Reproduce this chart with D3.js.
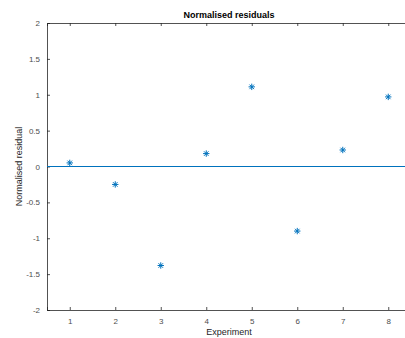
<!DOCTYPE html>
<html>
<head>
<meta charset="utf-8">
<script src="https://cdn.jsdelivr.net/npm/d3@7"></script>
<style>
  body { margin: 0; background: #fff; }
  text { font-family: "Liberation Sans", Arial, sans-serif; }
</style>
</head>
<body>
<div id="graphic"></div>
<script>
// data
const experiments = [1, 2, 3, 4, 5, 6, 7, 8];
const residuals = [0.05, -0.25, -1.38, 0.18, 1.11, -0.90, 0.23, 0.97];
const yTicks = [-2, -1.5, -1, -0.5, 0, 0.5, 1, 1.5, 2];

const margin = {top: 23, right: -6, bottom: 28, left: 47};
const width = 405 - margin.left - margin.right;
const height = 338 - margin.top - margin.bottom;

const svg = d3.select("#graphic")
    .append("svg")
    .attr("width", 405)
    .attr("height", 338)
    .style("display", "block")
    .style("overflow", "hidden");

const g = svg.append("g")
    .attr("transform", `translate(${margin.left}, ${margin.top})`);

const x = d3.scaleLinear().domain([0.5, 8.5]).range([0, width]);
const y = d3.scaleLinear().domain([-2, 2]).range([height, 0]);

const axisColor = "#262626";

// bottom axis, ticks inside
const xAxis = g.append("g")
    .attr("transform", `translate(0, ${height})`)
    .call(d3.axisBottom(x).tickValues(experiments).tickSize(-3).tickPadding(8).tickFormat(d3.format("d")));

// top axis, ticks only
const xTop = g.append("g")
    .call(d3.axisTop(x).tickValues(experiments).tickSize(-3).tickFormat(""));

// left axis
const yAxis = g.append("g")
    .call(d3.axisLeft(y).tickValues(yTicks).tickSize(-3).tickPadding(7).tickFormat(d => d));

[xAxis, xTop, yAxis].forEach(a => {
    a.select(".domain").attr("stroke", axisColor).attr("stroke-width", 0.8);
    a.selectAll(".tick line").attr("stroke", axisColor).attr("stroke-width", 0.8);
    a.selectAll(".tick text")
        .attr("fill", "#4d4d4d")
        .style("font-size", "8px");
});

// zero line
g.append("line")
    .attr("x1", 0).attr("x2", width)
    .attr("y1", y(0)).attr("y2", y(0))
    .attr("stroke", "#0072BD")
    .attr("stroke-width", 1);

// asterisk markers
const s = 3.2;
const d45 = s * Math.SQRT1_2;
const star = `M${-s},0L${s},0M0,${-s}L0,${s}M${-d45},${-d45}L${d45},${d45}M${-d45},${d45}L${d45},${-d45}`;

g.append("g")
    .selectAll("path")
    .data(experiments.map((e, i) => ({e, r: residuals[i]})))
    .join("path")
    .attr("transform", d => `translate(${x(d.e)}, ${y(d.r)})`)
    .attr("d", star)
    .attr("fill", "none")
    .attr("stroke", "#0072BD")
    .attr("stroke-width", 1);

// title and labels
svg.append("text")
    .attr("x", margin.left + width / 2)
    .attr("y", 18)
    .attr("text-anchor", "middle")
    .style("font-size", "9px")
    .style("font-weight", "bold")
    .attr("fill", "#000")
    .text("Normalised residuals");

svg.append("text")
    .attr("x", margin.left + width / 2)
    .attr("y", 335)
    .attr("text-anchor", "middle")
    .style("font-size", "9px")
    .attr("fill", "#262626")
    .text("Experiment");

svg.append("text")
    .attr("transform", `translate(22, ${margin.top + height / 2}) rotate(-90)`)
    .attr("text-anchor", "middle")
    .style("font-size", "9px")
    .attr("fill", "#262626")
    .text("Normalised residual");
</script>
</body>
</html>
